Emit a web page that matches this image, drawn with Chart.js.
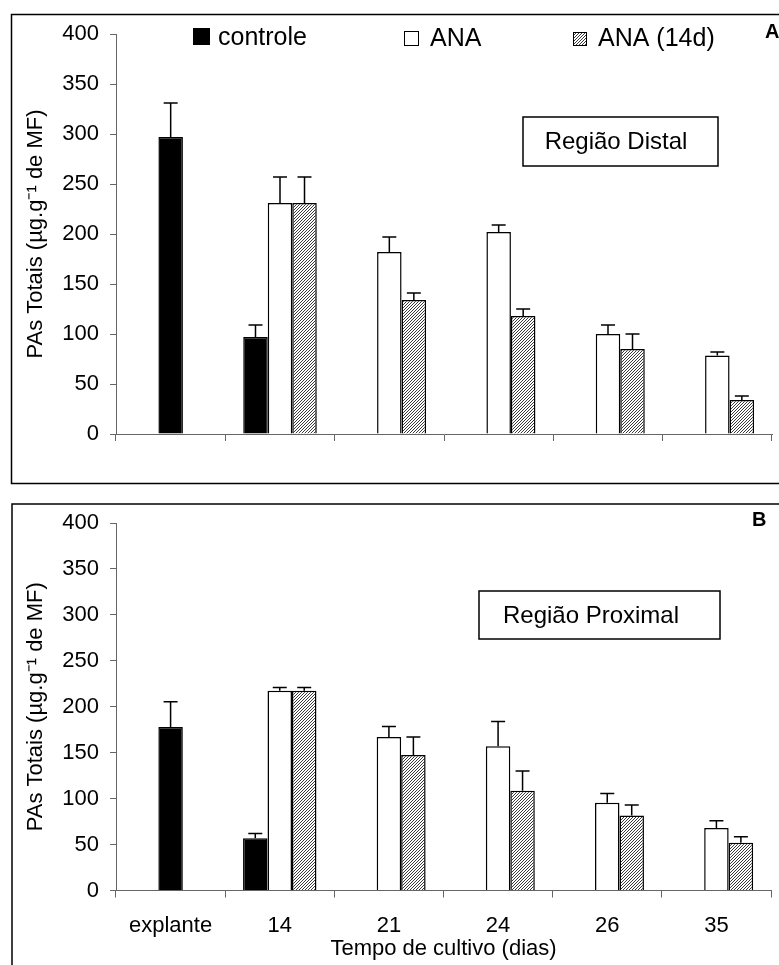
<!DOCTYPE html>
<html>
<head>
<meta charset="utf-8">
<script src="https://cdn.jsdelivr.net/npm/chart.js@4.4.1/dist/chart.umd.min.js"></script>
<style>
  html, body { margin: 0; padding: 0; background: #fff; }
  #wrapA { position: absolute; left: 0; top: 0; width: 779px; height: 490px; }
  #wrapB { position: absolute; left: 0; top: 490px; width: 779px; height: 475px; }
</style>
</head>
<body>
<div id="wrapA"><canvas id="chartA"></canvas></div>
<div id="wrapB"><canvas id="chartB"></canvas></div>
<script>
// categories and series
const categories = ["explante", "14", "21", "24", "26", "35"];
const seriesLabels = ["controle", "ANA", "ANA (14d)"];
const yMin = 0, yMax = 400, yStep = 50;

// A - Região Distal
const distalExplante = 297, distalExplanteErr = 34;
const distalControle    = [null, 97, null, null, null, null];
const distalControleErr = [null, 12, null, null, null, null];
const distalAna         = [null, 231, 182, 202, 100, 78.5];
const distalAnaErr      = [null, 26, 15, 7, 9, 3.5];
const distalAna14       = [null, 231, 134, 118, 85, 34];
const distalAna14Err    = [null, 26, 7, 7, 15, 4];

// B - Região Proximal
const proxExplante = 178, proxExplanteErr = 27.5;
const proxControle    = [null, 57, null, null, null, null];
const proxControleErr = [null, 5, null, null, null, null];
const proxAna         = [null, 217.5, 167, 157, 95.5, 68];
const proxAnaErr      = [null, 3.5, 11.5, 27, 10, 8];
const proxAna14       = [null, 217.5, 147.5, 108.5, 81.5, 52];
const proxAna14Err    = [null, 3.5, 19.5, 21.5, 11.5, 6.5];

const FONT = "'Liberation Sans', Arial, sans-serif";
Chart.defaults.font.family = FONT;
Chart.defaults.color = "#000";

function hatchPattern(ctx) {
  const c = document.createElement("canvas");
  c.width = 3; c.height = 3;
  const g = c.getContext("2d");
  g.fillStyle = "#fff";
  g.fillRect(0, 0, 3, 3);
  g.strokeStyle = "#222";
  g.lineWidth = 0.9;
  g.beginPath();
  g.moveTo(0, 3); g.lineTo(3, 0);
  g.moveTo(-1, 1); g.lineTo(1, -1);
  g.moveTo(2, 4); g.lineTo(4, 2);
  g.stroke();
  return ctx.createPattern(c, "repeat");
}

// the explante value goes in the middle slot so its bar sits centred
function buildDatasets(ctx, expl, explErr, ctl, ctlErr, ana, anaErr, ana14, ana14Err) {
  const mid = ana.slice(); mid[0] = expl;
  const midErr = anaErr.slice(); midErr[0] = explErr;
  return [
    { label: seriesLabels[0], data: ctl, errors: ctlErr,
      backgroundColor: "#000", borderColor: "#000", borderWidth: 1.5 },
    { label: seriesLabels[1], data: mid, errors: midErr,
      backgroundColor: mid.map((v, i) => i === 0 ? "#000" : "#fff"), borderColor: "#000", borderWidth: 1.5 },
    { label: seriesLabels[2], data: ana14, errors: ana14Err,
      backgroundColor: hatchPattern(ctx), borderColor: "#000", borderWidth: 1.5 }
  ];
}

const errorBars = {
  id: "errorBars",
  afterDatasetsDraw(chart) {
    const ctx = chart.ctx, y = chart.scales.y;
    ctx.save();
    ctx.strokeStyle = "#000";
    ctx.lineWidth = 1.5;
    chart.data.datasets.forEach((ds, i) => {
      const meta = chart.getDatasetMeta(i);
      meta.data.forEach((bar, j) => {
        const v = ds.data[j], e = ds.errors[j];
        if (v == null || e == null) return;
        const top = y.getPixelForValue(v + e);
        ctx.beginPath();
        ctx.moveTo(bar.x, bar.y);
        ctx.lineTo(bar.x, top);
        ctx.moveTo(bar.x - 7, top);
        ctx.lineTo(bar.x + 7, top);
        ctx.stroke();
      });
    });
    ctx.restore();
  }
};

const decor = {
  id: "decor",
  afterDraw(chart, args, o) {
    const ctx = chart.ctx;
    ctx.save();
    ctx.strokeStyle = "#000";
    ctx.fillStyle = "#000";
    ctx.lineWidth = 1.5;
    ctx.strokeRect(o.frame[0], o.frame[1], o.frame[2], o.frame[3]);

    ctx.font = "bold 20px " + FONT;
    ctx.textAlign = "left";
    ctx.textBaseline = "alphabetic";
    ctx.fillText(o.letter[0], o.letter[1], o.letter[2]);

    const b = o.box;
    ctx.strokeRect(b[0], b[1], b[2], b[3]);
    ctx.font = "24px " + FONT;
    ctx.textAlign = "center";
    ctx.textBaseline = "middle";
    ctx.fillText(o.boxText, o.boxTextPos[0], o.boxTextPos[1]);

    if (o.legend) {
      const ds = chart.data.datasets;
      ctx.font = "25px " + FONT;
      ctx.textAlign = "left";
      ctx.textBaseline = "alphabetic";
      o.legend.forEach((it, i) => {
        const fill = i === 1 ? "#fff" : ds[i].backgroundColor;
        ctx.fillStyle = fill;
        ctx.fillRect(it[0], it[1] - it[2], it[2], it[2]);
        ctx.lineWidth = 1;
        ctx.strokeRect(it[0] + 0.5, it[1] - it[2] + 0.5, it[2] - 1, it[2] - 1);
        ctx.fillStyle = "#000";
        ctx.fillText(ds[i].label, it[3], it[1]);
      });
    }
    ctx.restore();
  }
};

function makePanel(id, datasetsArgs, cfg) {
  const canvas = document.getElementById(id);
  const ctx = canvas.getContext("2d");
  return new Chart(ctx, {
    type: "bar",
    data: {
      labels: categories,
      datasets: buildDatasets(ctx, ...datasetsArgs)
    },
    options: {
      responsive: true,
      maintainAspectRatio: false,
      animation: false,
      devicePixelRatio: 1,
      categoryPercentage: 0.6725,
      barPercentage: 1,
      layout: { padding: cfg.padding },
      plugins: {
        legend: { display: false },
        tooltip: { enabled: false },
        decor: cfg.decor
      },
      scales: {
        x: {
          offset: true,
          grid: { drawOnChartArea: false, drawTicks: true, tickLength: 7, color: "#666", offset: true },
          border: { color: "#666", width: 1 },
          ticks: { display: cfg.xLabels, font: { size: 22 }, color: "#000", padding: 15, maxRotation: 0 },
          title: { display: cfg.xLabels, text: "Tempo de cultivo (dias)", font: { size: 22 }, color: "#000",
                   padding: { top: 0, bottom: 3 } },
          afterFit: s => { s.height = cfg.xHeight; }
        },
        y: {
          min: yMin, max: yMax,
          ticks: { stepSize: yStep, font: { size: 22 }, color: "#000", padding: 11 },
          grid: { drawOnChartArea: false, drawTicks: true, tickLength: 6, color: "#666" },
          border: { color: "#666", width: 1 },
          title: { display: true, text: "PAs Totais (µg.g⁻¹ de MF)", font: { size: 22 }, color: "#000",
                   padding: { top: 23, bottom: 0 } },
          afterFit: s => { s.width = 116; }
        }
      }
    },
    plugins: [errorBars, decor]
  });
}

makePanel("chartA",
  [distalExplante, distalExplanteErr, distalControle, distalControleErr,
   distalAna, distalAnaErr, distalAna14, distalAna14Err],
  {
    padding: { left: 0, top: 34, right: 7, bottom: 0 },
    xHeight: 56,
    xLabels: false,
    decor: {
      frame: [11.5, 14.5, 900, 469],
      letter: ["A", 765, 38],
      box: [523, 117, 195, 49],
      boxText: "Região Distal",
      boxTextPos: [616, 142],
      legend: [[193, 45, 17, 218], [404, 46, 15, 430], [573, 46, 14, 598]]
    }
  });

makePanel("chartB",
  [proxExplante, proxExplanteErr, proxControle, proxControleErr,
   proxAna, proxAnaErr, proxAna14, proxAna14Err],
  {
    padding: { left: 0, top: 33, right: 8, bottom: 0 },
    xHeight: 74.5,
    xLabels: true,
    decor: {
      frame: [12, 14, 900, 600],
      letter: ["B", 752, 36],
      box: [479, 101, 241, 48],
      boxText: "Região Proximal",
      boxTextPos: [591, 126],
      legend: null
    }
  });
</script>
</body>
</html>
